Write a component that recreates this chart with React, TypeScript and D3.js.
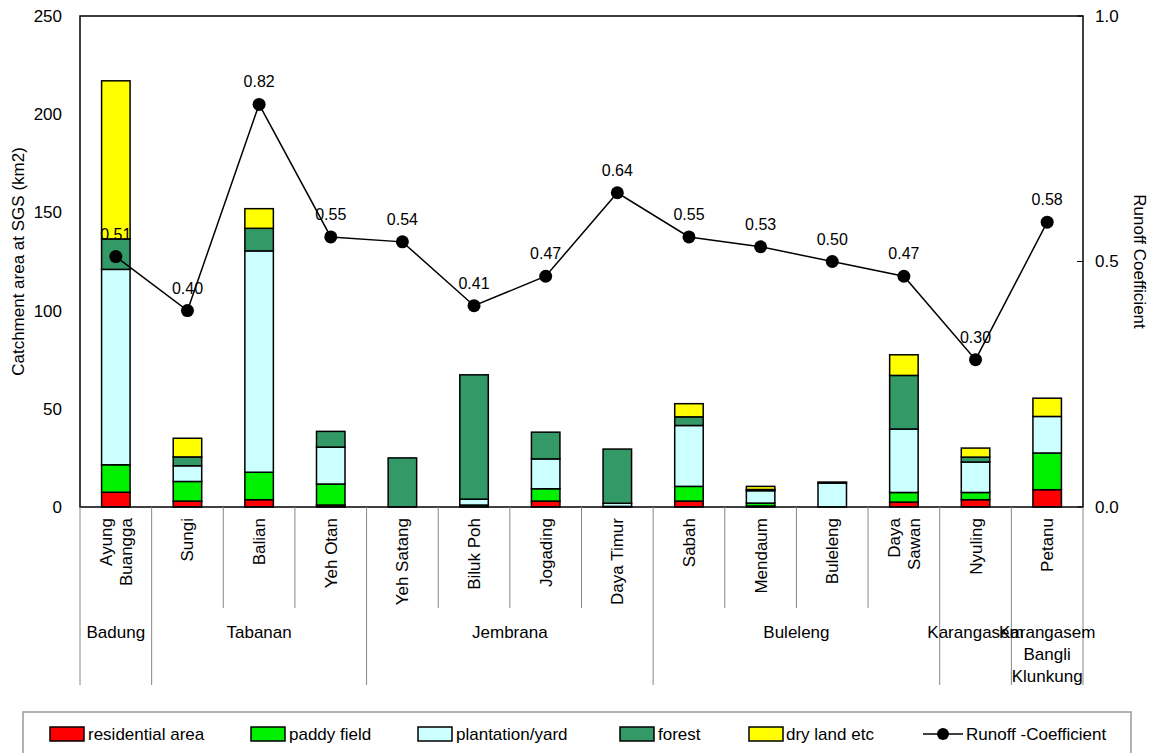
import React from "react";
import * as d3 from "d3";

// River catchments (two-line names split with "\n")
const rivers = [
  "Ayung\nBuangga", "Sungi", "Balian", "Yeh Otan", "Yeh Satang", "Biluk Poh", "Jogading",
  "Daya Timur", "Sabah", "Mendaum", "Buleleng", "Daya\nSawan", "Nyuling", "Petanu",
];

// Land use areas at SGS (km2)
const residentialArea = [7.5, 3, 3.7, 1, 0, 0, 3, 0, 3, 0.5, 0, 2.5, 3.7, 8.8];
const paddyField = [14, 10, 14, 10.7, 0, 1, 6.3, 0.3, 7.5, 1.5, 0, 4.9, 3.7, 18.7];
const plantationYard = [99.5, 8, 112.7, 18.8, 0, 3, 15.2, 1.6, 31, 6.3, 12.2, 32.3, 15.5, 18.6];
const forest = [15.5, 4.5, 11.5, 8, 25, 63.3, 13.6, 27.6, 4.4, 0.6, 0.5, 27.3, 2.5, 0];
const dryLand = [80.5, 9.5, 10, 0, 0, 0, 0, 0, 6.7, 1.6, 0, 10.5, 4.6, 9.3];

// Runoff coefficient per river
const runoffCoefficient = [0.51, 0.4, 0.82, 0.55, 0.54, 0.41, 0.47, 0.64, 0.55, 0.53, 0.5, 0.47, 0.3, 0.58];

// Regencies and how many rivers each spans
const regencies = ["Badung", "Tabanan", "Jembrana", "Buleleng", "Karangasem", "Karangasem\nBangli\nKlunkung"];
const regencySpans = [1, 3, 4, 4, 1, 1];

const leftTicks = [0, 50, 100, 150, 200, 250];
const rightTicks = [0, 0.5, 1.0];

const layerNames = ["residential area", "paddy field", "plantation/yard", "forest", "dry land etc"];
const layerColors = ["#FF0000", "#00F000", "#CCFFFF", "#339966", "#FFFF00"];

const W = 1153;
const H = 753;
const M = { left: 80, right: 1083, top: 16, bottom: 507 };
const FONT = "'Liberation Sans', Arial, sans-serif";

export default function App() {
  const x = d3.scaleBand<number>().domain(d3.range(rivers.length)).range([M.left, M.right]).paddingInner(0).paddingOuter(0);
  const yL = d3.scaleLinear().domain([0, 250]).range([M.bottom, M.top]);
  const yR = d3.scaleLinear().domain([0, 1]).range([M.bottom, M.top]);

  const rows = rivers.map((r, i) => ({
    i,
    l0: residentialArea[i],
    l1: paddyField[i],
    l2: plantationYard[i],
    l3: forest[i],
    l4: dryLand[i],
  }));
  const stacked = d3.stack<any>().keys(["l0", "l1", "l2", "l3", "l4"])(rows);

  const bw = x.bandwidth();
  const barW = 28.5;
  const cx = (i: number) => (x(i) as number) + bw / 2;

  const line = d3
    .line<number>()
    .x((_, i) => cx(i))
    .y((d) => yR(d));

  // boundaries between rivers; regency boundaries drawn longer
  const regencyEdges = new Set<number>([0]);
  let acc = 0;
  regencySpans.forEach((s) => {
    acc += s;
    regencyEdges.add(acc);
  });
  const edges = d3.range(rivers.length + 1);

  let start = 0;
  const regencyPos = regencySpans.map((s) => {
    const a = x(start) as number;
    const b = a + s * bw;
    start += s;
    return (a + b) / 2;
  });

  const legendItems = [
    { sx: 50, tx: 88 },
    { sx: 251, tx: 289 },
    { sx: 418, tx: 456 },
    { sx: 620, tx: 658 },
    { sx: 749, tx: 786 },
  ];
  const legendY = 734;

  return (
    <svg
      width={W}
      height={H}
      style={{ position: "fixed", left: 0, top: 0, background: "#fff" }}
      fontFamily={FONT}
    >
      <rect x={0} y={0} width={W} height={H} fill="#fff" />

      {/* stacked bars */}
      {stacked.map((layer, k) => (
        <g key={k}>
          {layer.map((d, i) =>
            d[1] - d[0] > 0 ? (
              <rect
                key={i}
                x={cx(i) - barW / 2}
                y={yL(d[1])}
                width={barW}
                height={yL(d[0]) - yL(d[1])}
                fill={layerColors[k]}
                stroke="#000"
                strokeWidth={1.5}
              />
            ) : null
          )}
        </g>
      ))}

      {/* plot frame */}
      <rect x={M.left} y={M.top} width={M.right - M.left} height={M.bottom - M.top} fill="none" stroke="#000" strokeWidth={1.5} />

      {/* right axis inner ticks */}
      {rightTicks.map((t) => (
        <line key={t} x1={M.right - 6} x2={M.right} y1={yR(t)} y2={yR(t)} stroke="#000" strokeWidth={1} />
      ))}

      {/* left tick labels */}
      {leftTicks.map((t) => (
        <text key={t} x={62} y={yL(t)} dy="0.35em" textAnchor="end" fontSize={17} fill="#000">
          {t}
        </text>
      ))}
      {/* right tick labels */}
      {rightTicks.map((t) => (
        <text key={t} x={1095} y={yR(t)} dy="0.35em" textAnchor="start" fontSize={17} fill="#000">
          {t.toFixed(1)}
        </text>
      ))}

      {/* axis titles */}
      <text transform={`translate(24,${(M.top + M.bottom) / 2}) rotate(-90)`} textAnchor="middle" fontSize={17} fill="#000">
        Catchment area at SGS (km2)
      </text>
      <text transform={`translate(1134,${(M.top + M.bottom) / 2}) rotate(90)`} textAnchor="middle" fontSize={17} fill="#000">
        Runoff Coefficient
      </text>

      {/* category separators */}
      {edges.map((e) => {
        const xe = e === rivers.length ? M.right : (x(e) as number);
        const long = regencyEdges.has(e);
        return (
          <line key={e} x1={xe} x2={xe} y1={M.bottom} y2={long ? 685 : 608} stroke="#888" strokeWidth={1} />
        );
      })}

      {/* river names */}
      {rivers.map((r, i) => {
        const parts = r.split("\n");
        const n = parts.length;
        return parts.map((p, j) => {
          const off = (j - (n - 1) / 2) * 20 + 6;
          return (
            <text
              key={`${i}-${j}`}
              transform={`translate(${cx(i) + off},518) rotate(-90)`}
              textAnchor="end"
              fontSize={17}
              fill="#000"
            >
              {p}
            </text>
          );
        });
      })}

      {/* regency names */}
      {regencies.map((g, k) =>
        g.split("\n").map((p, j) => (
          <text key={`${k}-${j}`} x={regencyPos[k]} y={638 + j * 22} textAnchor="middle" fontSize={17} fill="#000">
            {p}
          </text>
        ))
      )}

      {/* runoff coefficient line */}
      <path d={line(runoffCoefficient) || ""} fill="none" stroke="#000" strokeWidth={1.5} />
      {runoffCoefficient.map((v, i) => (
        <circle key={i} cx={cx(i)} cy={yR(v)} r={6.5} fill="#000" />
      ))}
      {runoffCoefficient.map((v, i) => (
        <text key={i} x={cx(i)} y={yR(v) - 17} textAnchor="middle" fontSize={16} fill="#000">
          {v.toFixed(2)}
        </text>
      ))}

      {/* legend */}
      <rect x={23} y={712} width={1108} height={60} fill="#fff" stroke="#999" strokeWidth={1.5} />
      {layerNames.map((name, k) => (
        <g key={name}>
          <rect x={legendItems[k].sx} y={legendY - 7} width={34} height={14} fill={layerColors[k]} stroke="#000" strokeWidth={1.5} />
          <text x={legendItems[k].tx} y={legendY} dy="0.35em" fontSize={17} fill="#000">
            {name}
          </text>
        </g>
      ))}
      <line x1={923} x2={963} y1={legendY} y2={legendY} stroke="#000" strokeWidth={1.5} />
      <circle cx={943} cy={legendY} r={6} fill="#000" />
      <text x={966} y={legendY} dy="0.35em" fontSize={17} fill="#000">
        Runoff -Coefficient
      </text>
    </svg>
  );
}
